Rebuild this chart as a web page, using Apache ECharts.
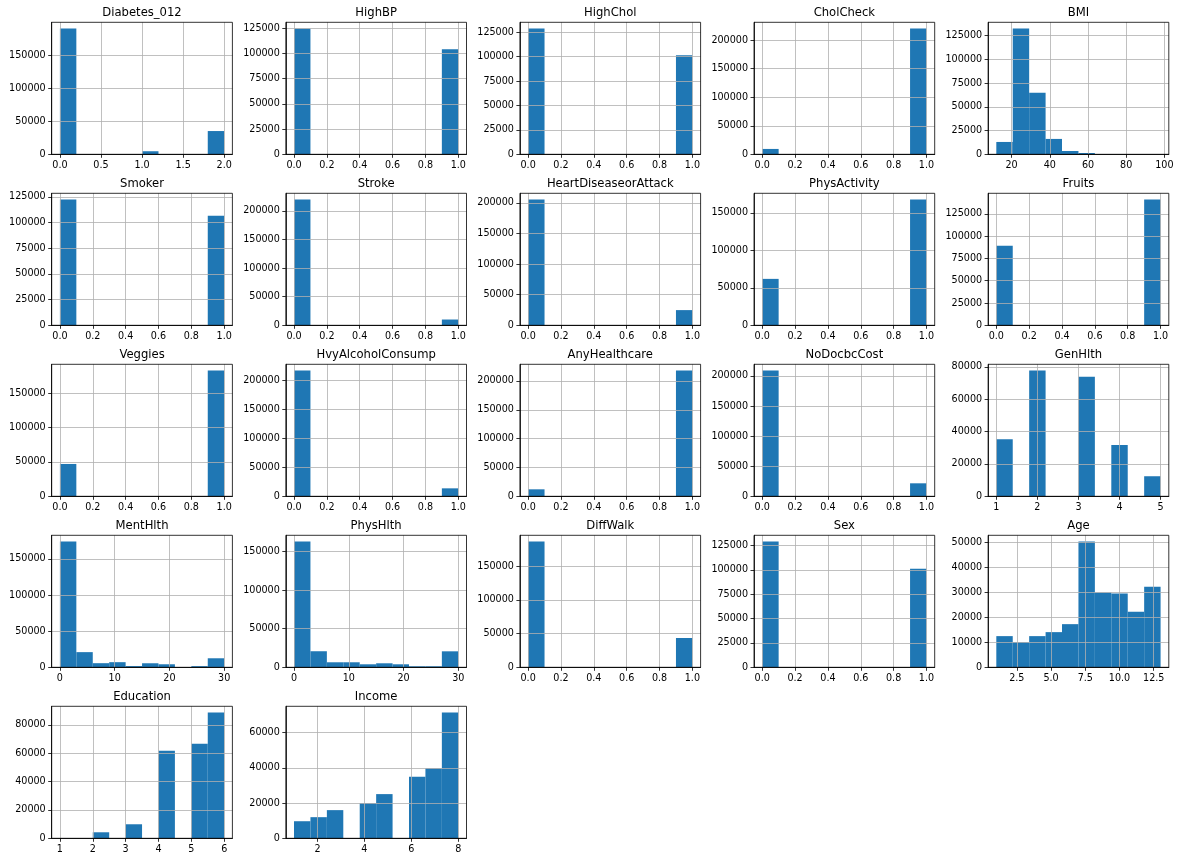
<!DOCTYPE html>
<html>
<head>
<meta charset="utf-8">
<title>hist grid</title>
<script src="https://cdn.jsdelivr.net/npm/echarts@6/dist/echarts.min.js"></script>
<style>
  html, body { margin: 0; padding: 0; background: #fff; }
  #chart { width: 1180px; height: 862px; }
</style>
</head>
<body>
<div id="chart"></div>
<script>
// columns of the data frame, one histogram each (10 bins)
const titles = ['Diabetes_012', 'HighBP', 'HighChol', 'CholCheck', 'BMI',
  'Smoker', 'Stroke', 'HeartDiseaseorAttack', 'PhysActivity', 'Fruits',
  'Veggies', 'HvyAlcoholConsump', 'AnyHealthcare', 'NoDocbcCost', 'GenHlth',
  'MentHlth', 'PhysHlth', 'DiffWalk', 'Sex', 'Age',
  'Education', 'Income'];

// value range of each column (histogram spans min..max)
const binLow = [0, 0, 0, 0, 12, 0, 0, 0, 0, 0, 0, 0, 0, 0, 1, 0, 0, 0, 0, 1, 1, 1];
const binHigh = [2, 1, 1, 1, 98, 1, 1, 1, 1, 1, 1, 1, 1, 1, 5, 30, 30, 1, 1, 13, 6, 8];

// counts per bin
const diabetes012 = [190000, 0, 0, 0, 0, 4630, 0, 0, 0, 35150];
const highBP = [124700, 0, 0, 0, 0, 0, 0, 0, 0, 104300];
const highChol = [128700, 0, 0, 0, 0, 0, 0, 0, 0, 101500];
const cholCheck = [9400, 0, 0, 0, 0, 0, 0, 0, 0, 220400];
const bmi = [13000, 132400, 64800, 16200, 3500, 1400, 320, 110, 50, 30];
const smoker = [122400, 0, 0, 0, 0, 0, 0, 0, 0, 106700];
const stroke = [219800, 0, 0, 0, 0, 0, 0, 0, 0, 10100];
const heartDisease = [205200, 0, 0, 0, 0, 0, 0, 0, 0, 24800];
const physActivity = [62000, 0, 0, 0, 0, 0, 0, 0, 0, 167900];
const fruits = [89300, 0, 0, 0, 0, 0, 0, 0, 0, 141000];
const veggies = [47000, 0, 0, 0, 0, 0, 0, 0, 0, 182700];
const hvyAlcohol = [216300, 0, 0, 0, 0, 0, 0, 0, 0, 13700];
const anyHealthcare = [12100, 0, 0, 0, 0, 0, 0, 0, 0, 217900];
const noDocbcCost = [209000, 0, 0, 0, 0, 0, 0, 0, 0, 21600];
const genHlth = [35200, 0, 77700, 0, 0, 73900, 0, 31700, 0, 12400];
const mentHlth = [174100, 21000, 5700, 7100, 1700, 5600, 4200, 400, 1600, 12500];
const physHlth = [162800, 20800, 6500, 6500, 3900, 5200, 3900, 1300, 1300, 20700];
const diffWalk = [186500, 0, 0, 0, 0, 0, 0, 0, 0, 43500];
const sex = [129000, 0, 0, 0, 0, 0, 0, 0, 0, 101200];
const age = [12500, 10100, 12500, 14100, 17300, 50400, 30000, 29600, 22300, 32300];
const education = [170, 0, 4250, 0, 9900, 0, 61700, 0, 66700, 88700];
const income = [9700, 12000, 16000, 0, 20000, 25100, 0, 34900, 39800, 71400];

const counts = [diabetes012, highBP, highChol, cholCheck, bmi,
  smoker, stroke, heartDisease, physActivity, fruits,
  veggies, hvyAlcohol, anyHealthcare, noDocbcCost, genHlth,
  mentHlth, physHlth, diffWalk, sex, age,
  education, income];

// tick labels
const binTicks = ['0.0', '0.2', '0.4', '0.6', '0.8', '1.0'];
const xTickLabels = [
  ['0.0', '0.5', '1.0', '1.5', '2.0'], binTicks, binTicks, binTicks, ['20', '40', '60', '80', '100'],
  binTicks, binTicks, binTicks, binTicks, binTicks,
  binTicks, binTicks, binTicks, binTicks, ['1', '2', '3', '4', '5'],
  ['0', '10', '20', '30'], ['0', '10', '20', '30'], binTicks, binTicks, ['2.5', '5.0', '7.5', '10.0', '12.5'],
  ['1', '2', '3', '4', '5', '6'], ['2', '4', '6', '8']
];
const y50k = [0, 50000, 100000, 150000];
const y25k = [0, 25000, 50000, 75000, 100000, 125000];
const y200k = [0, 50000, 100000, 150000, 200000];
const yTicks = [
  y50k, y25k, y25k, y200k, y25k,
  y25k, y200k, y200k, y50k, y25k,
  y50k, y200k, y200k, y200k, [0, 20000, 40000, 60000, 80000],
  y50k, y50k, y50k, y25k, [0, 10000, 20000, 30000, 40000, 50000],
  [0, 20000, 40000, 60000, 80000], [0, 20000, 40000, 60000]
];

const FONT = 'DejaVu Sans';
const BAR = '#1f77b4';

const chart = echarts.init(document.getElementById('chart'));

const grids = [], xAxes = [], yAxes = [], series = [], titleList = [];

titles.forEach(function (name, i) {
  const r = Math.floor(i / 5), c = i % 5;
  const left = 51.7 + c * 234.1;
  const top = 22.3 + r * 171;
  const w = 180.7, h = 132;
  const lo = binLow[i], hi = binHigh[i];
  const span = hi - lo;
  const bw = span / 10;
  const ymax = Math.max.apply(null, counts[i]) * 1.05;
  const xVals = xTickLabels[i].map(parseFloat);
  const labels = xTickLabels[i];

  grids.push({
    left: left, top: top, width: w, height: h,
    show: true, borderColor: '#000', borderWidth: 0.8,
    backgroundColor: 'transparent', z: 4,
    outerBoundsMode: 'none'
  });
  titleList.push({
    text: name, left: left + w / 2, top: top - 15, textAlign: 'center', padding: 0,
    textStyle: { fontFamily: FONT, fontSize: 11.6, fontWeight: 'normal', color: '#000' }
  });
  xAxes.push({
    type: 'value', gridIndex: i, min: lo - 0.05 * span, max: hi + 0.05 * span, z: 3,
    axisLine: { show: true, onZero: false, lineStyle: { color: '#000', width: 0.8 } },
    axisTick: { show: true, length: 3.5, customValues: xVals, lineStyle: { color: '#000', width: 0.8 } },
    axisLabel: {
      customValues: xVals, margin: 6, color: '#000', fontFamily: FONT, fontSize: 9.6,
      formatter: function (v) {
        for (let k = 0; k < xVals.length; k++) {
          if (Math.abs(xVals[k] - v) < 1e-9) return labels[k];
        }
        return '';
      }
    },
    splitLine: { show: true, lineStyle: { color: '#b0b0b0', width: 0.8 } }
  });
  yAxes.push({
    type: 'value', gridIndex: i, min: 0, max: ymax, z: 3,
    axisLine: { show: true, onZero: false, lineStyle: { color: '#000', width: 0.8 } },
    axisTick: { show: true, length: 3.5, customValues: yTicks[i], lineStyle: { color: '#000', width: 0.8 } },
    axisLabel: {
      customValues: yTicks[i], margin: 6, color: '#000', fontFamily: FONT, fontSize: 9.6,
      formatter: function (v) { return String(v); }
    },
    splitLine: { show: true, lineStyle: { color: '#b0b0b0', width: 0.8 } }
  });

  const data = counts[i].map(function (cnt, k) {
    return [lo + k * bw, lo + (k + 1) * bw, cnt];
  });
  series.push({
    type: 'custom', name: name, xAxisIndex: i, yAxisIndex: i, z: 2,
    encode: { x: [0, 1], y: 2 },
    data: data,
    renderItem: function (params, api) {
      const v = api.value(2);
      if (!v) return null;
      const p0 = api.coord([api.value(0), v]);
      const p1 = api.coord([api.value(1), 0]);
      return {
        type: 'rect',
        shape: { x: p0[0], y: p0[1], width: p1[0] - p0[0], height: p1[1] - p0[1] },
        style: { fill: BAR }
      };
    }
  });
});

chart.setOption({
  animation: false,
  backgroundColor: '#fff',
  title: titleList,
  grid: grids,
  xAxis: xAxes,
  yAxis: yAxes,
  series: series
});

window.addEventListener('resize', function () {
  chart.resize();
});
</script>
</body>
</html>
